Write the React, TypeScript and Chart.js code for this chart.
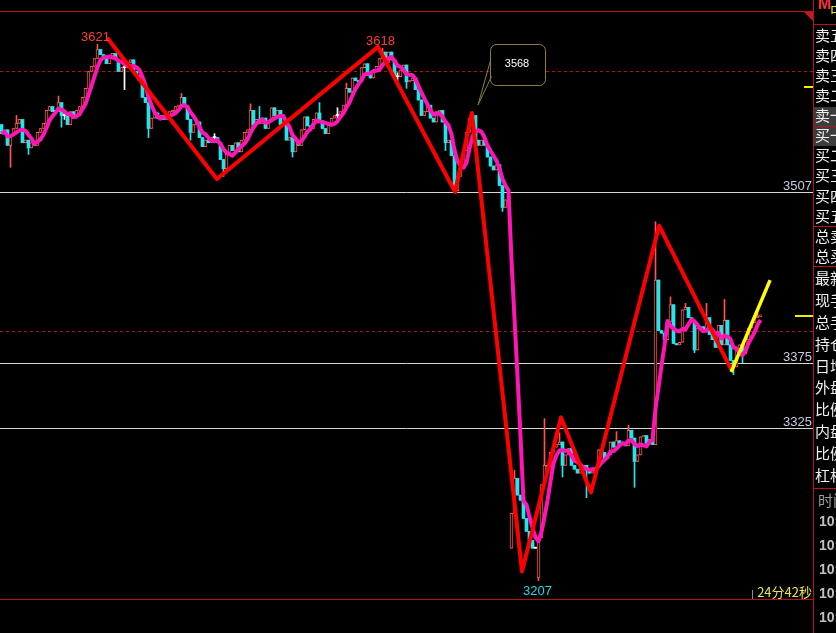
import { useEffect, useRef } from 'react';
import { Chart, registerables } from 'chart.js';

Chart.register(...registerables);

// ---------- price data (one close per bar) ----------
const closes: number[] = [
  3552, 3555, 3543, 3551, 3556, 3560, 3563, 3545, 3547, 3541,
  3545, 3543, 3553, 3556, 3560, 3570, 3573, 3569, 3569, 3576,
  3566, 3566, 3559, 3569, 3564, 3570, 3573, 3580, 3587, 3600,
  3604, 3610, 3617, 3613, 3610, 3606, 3612, 3614, 3609, 3600,
  3603, 3603, 3607, 3609, 3600, 3597, 3593, 3580, 3576, 3556,
  3564, 3568, 3564, 3566, 3563, 3565, 3569, 3570, 3573, 3574,
  3580, 3573, 3563, 3553, 3559, 3561, 3549, 3542, 3547, 3545,
  3549, 3549, 3545, 3532, 3525, 3536, 3543, 3539, 3545, 3538,
  3547, 3553, 3555, 3570, 3559, 3563, 3560, 3564, 3556, 3561,
  3572, 3566, 3570, 3559, 3561, 3547, 3549, 3538, 3547, 3543,
  3555, 3565, 3558, 3556, 3563, 3568, 3562, 3556, 3552, 3560,
  3564, 3566, 3566, 3569, 3574, 3587, 3584, 3595, 3593, 3592,
  3603, 3606, 3597, 3595, 3601, 3604, 3610, 3615, 3607, 3615,
  3609, 3596, 3596, 3601, 3605, 3592, 3593, 3595, 3586, 3578,
  3566, 3569, 3574, 3564, 3561, 3569, 3570, 3561, 3545, 3547,
  3535, 3508, 3519, 3528, 3539, 3553, 3564, 3566, 3547, 3543,
  3547, 3543, 3534, 3527, 3524, 3528, 3512, 3495, 3501, 3505,
  3259, 3286, 3273, 3269, 3255, 3245, 3238, 3232, 3232, 3240,
  3281, 3296, 3295, 3306, 3310, 3312, 3314, 3296, 3304, 3309,
  3296, 3293, 3290, 3295, 3296, 3292, 3290, 3292, 3294, 3308,
  3306, 3301, 3304, 3314, 3310, 3315, 3313, 3313, 3311, 3323,
  3317, 3299, 3304, 3318, 3319, 3313, 3316, 3312, 3439, 3400,
  3398, 3393, 3407, 3420, 3390, 3389, 3391, 3416, 3418, 3410,
  3407, 3385, 3402, 3403, 3400, 3410, 3397, 3393, 3387, 3404,
  3389, 3408, 3389, 3377, 3372, 3385, 3389, 3382, 3393, 3402,
  3406, 3410, 3411, 3412,
];
const firstOpen = 3559;
// bars whose open does not follow the previous close
const openGaps: Record<number, number> = { 170: 3232, 179: 3209 };
// upper / lower shadows that reach past the body
const wickHighs: Record<number, number> = {
  5: 3566, 19: 3581, 21: 3569, 32: 3621, 41: 3605, 60: 3583, 71: 3552, 83: 3575,
  86: 3573, 106: 3576, 112: 3572, 115: 3591, 127: 3618, 132: 3599, 142: 3576,
  157: 3568, 171: 3292, 181: 3332, 186: 3321, 205: 3322, 209: 3327, 218: 3484,
  223: 3426, 228: 3421, 235: 3421, 241: 3424, 252: 3416,
};
const wickLows: Record<number, number> = {
  3: 3526, 9: 3536, 20: 3557, 21: 3563, 41: 3586, 49: 3549, 63: 3547, 71: 3545,
  74: 3519, 97: 3534, 112: 3561, 132: 3593, 135: 3587, 148: 3539, 167: 3492,
  179: 3207, 187: 3287, 195: 3271, 211: 3279, 231: 3383, 244: 3366, 247: 3375,
};

// swing (zigzag) line and the short trend line, as bar position + price
const zigzagIdx = [35.2, 71.8, 125.5, 151.2, 156.8, 173.5, 186.5, 196.5, 219.2, 243.2];
const zigzagPrice = [3626, 3517, 3619, 3507, 3568, 3214, 3333, 3275, 3481, 3370];
const trendIdx = [243.2, 256.2];
const trendPrice = [3368, 3439];

const levelPrices = [3507, 3375, 3325];
const dashedPrices = [3600, 3400];
const markPrice = 3589;
const highMarks = [32, 127];
const lowMarks = [179];
const calloutIdx = 157;
const MA_PERIOD = 5;

const sellRows = ['卖五', '卖四', '卖三', '卖二', '卖一'];
const buyRows = ['买一', '买二', '买三', '买四', '买五'];
const totalRows = ['总卖', '总买'];
const quoteRows = ['最新', '现手', '总手', '持仓', '日增', '外盘', '比例', '内盘', '比例', '杠杆'];
const timeHeader = '时间';
const timeRows = ['10:', '10:', '10:', '10:', '10:'];
const countdown = '24分42秒';

const Y_MIN = 3192.8;
const Y_MAX = 3646.7;
const X_MIN = -0.5;
const X_MAX = 270.5;

// ---------- derived series ----------
const opens = closes.map((_, i) => (i === 0 ? firstOpen : openGaps[i] ?? closes[i - 1]));
const highs = closes.map((c, i) => Math.max(opens[i], c, wickHighs[i] ?? -Infinity));
const lows = closes.map((c, i) => Math.min(opens[i], c, wickLows[i] ?? Infinity));
const movingAvg = closes.map((_, i) => {
  const win = closes.slice(Math.max(0, i - MA_PERIOD + 1), i + 1);
  return win.reduce((a, b) => a + b, 0) / win.length;
});

const UP = '#ff5450';
const DOWN = '#1ee8ee';
const FLAT = '#ffffff';
const tones = closes.map((c, i) => (c > opens[i] ? UP : c < opens[i] ? DOWN : FLAT));

const NUM_FONT = '13px "Liberation Sans", Arial, sans-serif';
const CJK_FONT = '15px "Noto Sans CJK SC", sans-serif';

const decor = {
  id: 'decor',
  beforeDatasetsDraw(chart: any) {
    const { ctx, chartArea: a, scales } = chart;
    const y = scales.y;
    ctx.save();
    ctx.lineWidth = 1;
    ctx.strokeStyle = '#b81010';
    ctx.setLineDash([3, 3]);
    dashedPrices.forEach((p) => {
      const py = Math.round(y.getPixelForValue(p)) + 0.5;
      ctx.beginPath();
      ctx.moveTo(a.left, py);
      ctx.lineTo(a.right, py);
      ctx.stroke();
    });
    ctx.setLineDash([]);
    ctx.strokeStyle = '#d8d8cc';
    ctx.font = NUM_FONT;
    ctx.fillStyle = '#c4cce0';
    ctx.textAlign = 'right';
    ctx.textBaseline = 'alphabetic';
    levelPrices.forEach((p) => {
      const py = Math.round(y.getPixelForValue(p)) + 0.5;
      ctx.beginPath();
      ctx.moveTo(a.left, py);
      ctx.lineTo(a.right, py);
      ctx.stroke();
      ctx.fillText(String(p), a.right - 1, py - 2.5);
    });
    ctx.restore();
  },
  afterDatasetsDraw(chart: any) {
    const { ctx, chartArea: a, scales } = chart;
    const x = scales.x;
    const y = scales.y;
    ctx.save();
    ctx.font = NUM_FONT;
    ctx.textAlign = 'center';

    // extreme price marks
    ctx.fillStyle = '#ff3c3c';
    ctx.textBaseline = 'alphabetic';
    highMarks.forEach((i) => {
      ctx.fillText(String(highs[i]), x.getPixelForValue(i) - 2, y.getPixelForValue(highs[i]) - 3.5);
    });
    ctx.fillStyle = '#1ed8e8';
    ctx.textBaseline = 'top';
    lowMarks.forEach((i) => {
      ctx.fillText(String(lows[i]), x.getPixelForValue(i) - 1, y.getPixelForValue(lows[i]) + 4);
    });

    // callout bubble
    const ax = x.getPixelForValue(calloutIdx);
    const ay = y.getPixelForValue(highs[calloutIdx]);
    const bx = Math.round(ax + 17.5) + 0.5;
    const by = Math.round(ay - 69) + 0.5;
    const bw = 55;
    const bh = 41;
    const r = 6;
    ctx.strokeStyle = '#8e7d3e';
    ctx.lineWidth = 1;
    ctx.fillStyle = '#000';
    ctx.beginPath();
    ctx.moveTo(bx + r, by);
    ctx.lineTo(bx + bw - r, by);
    ctx.arcTo(bx + bw, by, bx + bw, by + r, r);
    ctx.lineTo(bx + bw, by + bh - r);
    ctx.arcTo(bx + bw, by + bh, bx + bw - r, by + bh, r);
    ctx.lineTo(bx + r, by + bh);
    ctx.arcTo(bx, by + bh, bx, by + bh - r, r);
    ctx.lineTo(bx, by + r);
    ctx.arcTo(bx, by, bx + r, by, r);
    ctx.closePath();
    ctx.fill();
    ctx.stroke();
    ctx.beginPath();
    ctx.moveTo(bx, by + 16);
    ctx.lineTo(ax + 5.5, ay - 8);
    ctx.lineTo(bx + 1, by + 32);
    ctx.stroke();
    ctx.fillStyle = '#ffffff';
    ctx.font = '11px "Liberation Sans", Arial, sans-serif';
    ctx.textBaseline = 'middle';
    ctx.fillText(String(highs[calloutIdx]), bx + bw / 2 - 1, by + bh / 2 - 1);

    // price markers at the right edge
    ctx.fillStyle = '#f0f000';
    ctx.fillRect(a.right - 9, Math.round(y.getPixelForValue(markPrice)), 9, 2);
    ctx.fillRect(a.right - 18, Math.round(y.getPixelForValue(closes[closes.length - 1])), 18, 2);

    // countdown
    ctx.font = '13px "Noto Sans CJK SC", sans-serif';
    ctx.fillStyle = '#e6e650';
    ctx.textAlign = 'right';
    ctx.textBaseline = 'alphabetic';
    ctx.fillText(countdown, a.right - 1, a.bottom - 2);
    ctx.fillStyle = '#8a8a8a';
    ctx.fillRect(a.right - 61, a.bottom - 9, 1, 9);
    ctx.restore();
  },
  afterDraw(chart: any) {
    const { ctx, chartArea: a, width, height } = chart;
    ctx.save();
    const border = '#b41414';
    ctx.fillStyle = border;
    ctx.fillRect(0, a.top, a.right, 1);
    ctx.fillRect(0, a.bottom, a.right, 1);
    ctx.fillRect(a.right, 0, 1, height);
    ctx.fillStyle = '#c81818';
    ctx.beginPath();
    ctx.moveTo(a.right - 9, a.top + 1);
    ctx.lineTo(a.right, a.top + 1);
    ctx.lineTo(a.right, a.top + 10);
    ctx.closePath();
    ctx.fill();

    // side quote panel
    const px = a.right + 1;
    ctx.fillStyle = '#3c3c3c';
    ctx.fillRect(px, 107, width - px, 19);
    ctx.fillRect(px, 127, width - px, 19);
    ctx.fillStyle = border;
    [24, 126, 226, 266, 488].forEach((ly) => ctx.fillRect(px, ly, width - px, 1));

    ctx.textAlign = 'left';
    ctx.textBaseline = 'alphabetic';
    ctx.font = 'bold 16px "Liberation Sans", Arial, sans-serif';
    ctx.fillStyle = '#ff3030';
    ctx.fillText('M', px + 4, 9);
    ctx.font = CJK_FONT;
    ctx.fillStyle = '#e0e020';
    ctx.fillText('中', px + 16, 16);

    ctx.textBaseline = 'middle';
    ctx.fillStyle = '#f0f0f0';
    [...sellRows, ...buyRows, ...totalRows].forEach((t, k) => ctx.fillText(t, px + 1, 35 + k * 20.1));
    quoteRows.forEach((t, k) => ctx.fillText(t, px + 1, 278.5 + k * 21.85));
    ctx.fillStyle = '#9a9a9a';
    ctx.fillText(timeHeader, px + 4, 500);
    ctx.font = 'bold 14px "Liberation Sans", Arial, sans-serif';
    ctx.fillStyle = '#c0c0c0';
    timeRows.forEach((t, k) => ctx.fillText(t, px + 5, 522 + k * 24));
    ctx.restore();
  },
};

export default function App() {
  const ref = useRef<HTMLCanvasElement>(null);

  useEffect(() => {
    const canvas = ref.current;
    if (!canvas) return;
    const chart = new Chart(canvas, {
      type: 'bar',
      data: {
        datasets: [
          {
            type: 'bar',
            data: closes.map((_, i) => ({ x: i, y: [lows[i], highs[i]] })) as any,
            backgroundColor: tones,
            borderWidth: 0,
            barThickness: 1,
            minBarLength: 1,
            grouped: false,
            order: 5,
          },
          {
            type: 'bar',
            data: closes.map((c, i) => ({ x: i, y: [opens[i], c] })) as any,
            backgroundColor: closes.map((c, i) => (c > opens[i] ? '#000000' : tones[i])),
            borderColor: tones,
            borderWidth: closes.map((c, i) => (c > opens[i] ? 1 : 0)),
            borderSkipped: false,
            barThickness: 3,
            minBarLength: 1,
            grouped: false,
            order: 4,
          },
          {
            type: 'line',
            data: movingAvg.map((v, i) => ({ x: i, y: v })),
            borderColor: '#ff14b4',
            borderWidth: 4,
            borderJoinStyle: 'round',
            pointRadius: 0,
            tension: 0,
            order: 3,
          },
          {
            type: 'line',
            data: zigzagIdx.map((v, k) => ({ x: v, y: zigzagPrice[k] })),
            borderColor: '#ff0000',
            borderWidth: 4,
            borderJoinStyle: 'round',
            pointRadius: 0,
            tension: 0,
            order: 2,
          },
          {
            type: 'line',
            data: trendIdx.map((v, k) => ({ x: v, y: trendPrice[k] })),
            borderColor: '#ffff00',
            borderWidth: 3.5,
            pointRadius: 0,
            tension: 0,
            order: 1,
          },
        ] as any,
      },
      options: {
        responsive: false,
        animation: false,
        devicePixelRatio: 1,
        events: [],
        layout: { padding: { left: 0, top: 11, right: 23, bottom: 34 }, autoPadding: false },
        scales: {
          x: { type: 'linear', min: X_MIN, max: X_MAX, display: false, offset: false, bounds: 'data' },
          y: { type: 'linear', min: Y_MIN, max: Y_MAX, display: false, bounds: 'data' },
        },
        plugins: { legend: { display: false }, tooltip: { enabled: false } },
      } as any,
      plugins: [decor],
    });
    return () => chart.destroy();
  }, []);

  return (
    <div
      style={{
        position: 'fixed',
        left: 0,
        top: 0,
        width: 836,
        height: 633,
        background: '#000',
        overflow: 'hidden',
      }}
    >
      <canvas ref={ref} width={836} height={633} style={{ display: 'block' }} />
    </div>
  );
}
